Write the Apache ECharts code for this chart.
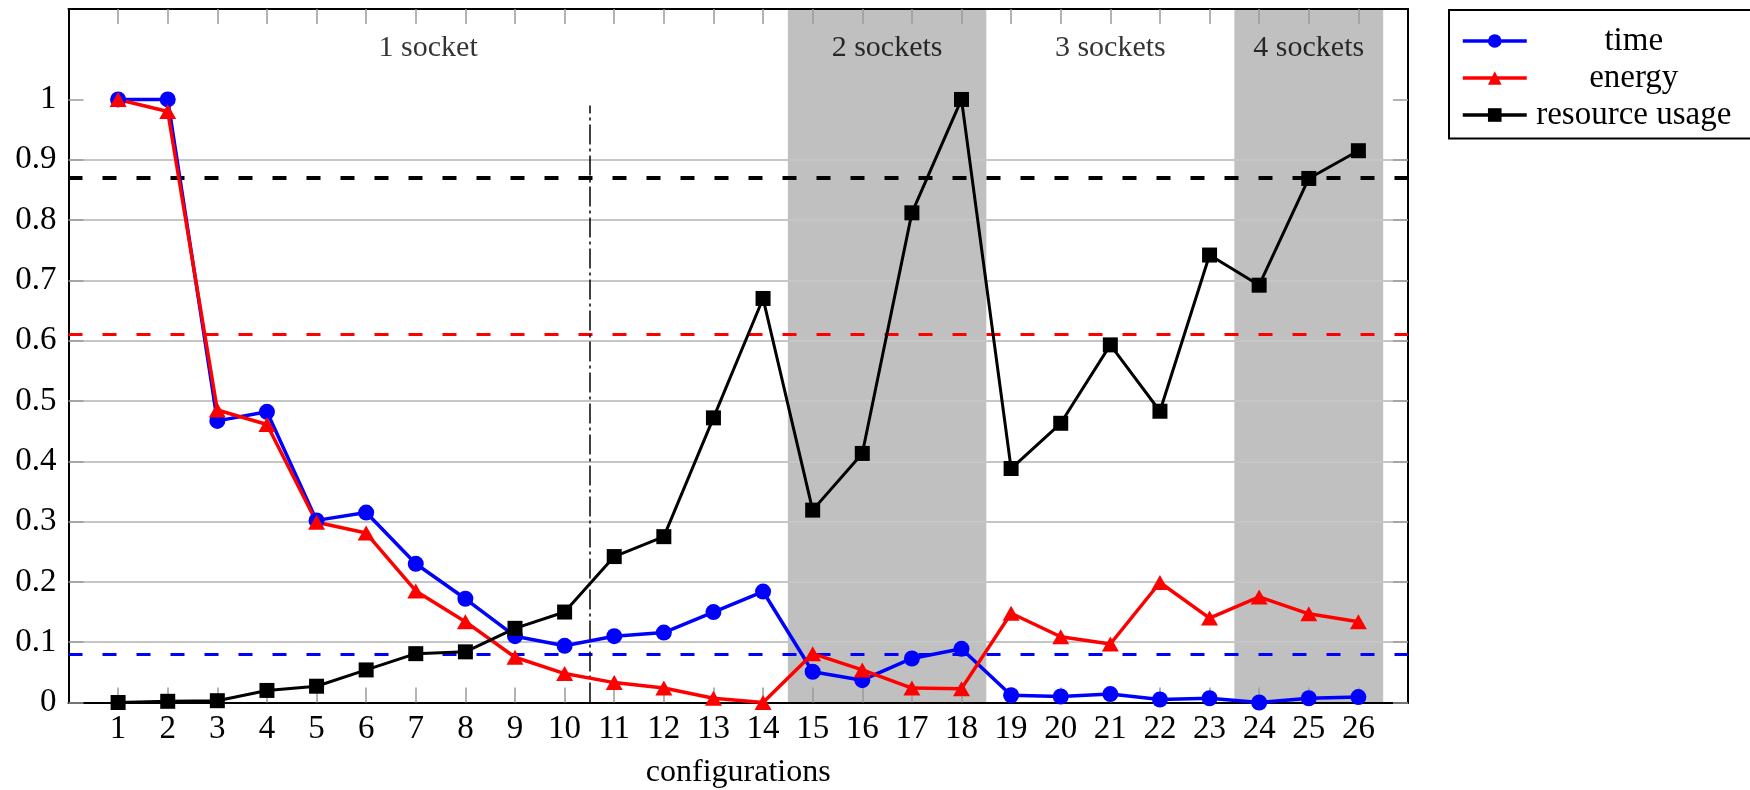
<!DOCTYPE html>
<html>
<head>
<meta charset="utf-8">
<script src="https://cdn.jsdelivr.net/npm/echarts@6/dist/echarts.min.js"></script>
<style>
  html, body { margin: 0; padding: 0; background: #fff; }
  #chart { width: 1750px; height: 790px; }
</style>
</head>
<body>
<div id="chart"></div>
<script>
// Configurations 1..26 and the three normalised metrics
const configs = [1, 2, 3, 4, 5, 6, 7, 8, 9, 10, 11, 12, 13, 14, 15, 16, 17, 18, 19, 20, 21, 22, 23, 24, 25, 26];
const timeValues = [1, 1, 0.467, 0.482, 0.302, 0.315, 0.23, 0.172, 0.11, 0.094, 0.11, 0.116, 0.15, 0.184,
  0.051, 0.037, 0.073, 0.089, 0.012, 0.01, 0.014, 0.005, 0.007, 0.0, 0.007, 0.009];
const energyValues = [1, 0.98, 0.485, 0.461, 0.299, 0.281, 0.185, 0.134, 0.075, 0.048, 0.033, 0.024, 0.007, 0.0,
  0.081, 0.054, 0.024, 0.023, 0.148, 0.109, 0.097, 0.199, 0.14, 0.175, 0.147, 0.134];
const resourceValues = [0, 0.002, 0.003, 0.02, 0.027, 0.054, 0.081, 0.084, 0.123, 0.15, 0.242, 0.275, 0.472, 0.67,
  0.319, 0.413, 0.812, 1.0, 0.388, 0.463, 0.593, 0.483, 0.742, 0.692, 0.869, 0.915];

// Thresholds drawn as dashed horizontal lines
const timeThreshold = 0.08;
const energyThreshold = 0.61;
const resourceThreshold = 0.87;

// Socket groups: shaded spans and their captions
const shadedSpans = [[14.5, 18.5], [23.5, 26.5]];
const sectionNames = ['1 socket', '2 sockets', '3 sockets', '4 sockets'];
const sectionCenters = [7.25, 16.5, 21, 25];
const sectionLabelLevel = 1.085;
const separatorX = 10.5;
const separatorTop = 0.99;

// Axis ticks
const yTickValues = [0, 0.1, 0.2, 0.3, 0.4, 0.5, 0.6, 0.7, 0.8, 0.9, 1];
const xTickValues = configs.slice();

const SERIF = '"Liberation Serif", "Times New Roman", serif';
const TICK_GRAY = '#9a9a9a';
const GRID_GRAY = '#c6c6c6';

const chart = echarts.init(document.getElementById('chart'), null, { renderer: 'canvas' });

const pairs = vals => configs.map((c, i) => [c, vals[i]]);

function fmtY(v) {
  if (v > 1.0001) return '';
  return String(Math.round(v * 10) / 10);
}
function fmtX(v) {
  if (v < 0.5 || v > 26.5) return '';
  return String(v);
}

// split line colours: visible for 0..1, hidden for 1.1 and the top edge
const splitColors = [];
for (let i = 0; i < 11; i++) splitColors.push(GRID_GRAY);
splitColors.push('rgba(0,0,0,0)', 'rgba(0,0,0,0)');

const commonX = {
  type: 'value', min: 0, max: 27, interval: 1, z: 2,
  axisLine: { show: true, onZero: false, lineStyle: { color: '#000', width: 2 } },
  axisTick: { show: true, inside: true, length: 15, customValues: xTickValues,
    lineStyle: { color: TICK_GRAY, width: 1.5 } },
  splitLine: { show: false }
};
const commonY = {
  type: 'value', min: 0, max: 1.15, interval: 0.1, z: 2,
  axisLine: { show: true, onZero: false, lineStyle: { color: '#000', width: 2 } },
  axisTick: { show: true, inside: true, length: 15, customValues: yTickValues,
    lineStyle: { color: TICK_GRAY, width: 1.5 } }
};

const option = {
  animation: false,
  backgroundColor: '#fff',
  grid: { left: 68.5, top: 9, width: 1339.5, height: 693.5, containLabel: false, outerBoundsMode: 'none' },
  xAxis: [
    Object.assign({}, commonX, {
      position: 'bottom',
      name: 'configurations', nameLocation: 'middle', nameGap: 54,
      nameTextStyle: { fontFamily: SERIF, fontSize: 32, color: '#000' },
      axisLabel: { show: true, margin: 10, customValues: xTickValues, formatter: fmtX,
        fontFamily: SERIF, fontSize: 33, color: '#000' }
    }),
    Object.assign({}, commonX, { position: 'top', axisLabel: { show: false } })
  ],
  yAxis: [
    Object.assign({}, commonY, {
      position: 'left',
      axisLabel: { show: true, margin: 12, customValues: yTickValues, formatter: fmtY,
        fontFamily: SERIF, fontSize: 33, color: '#000' },
      splitLine: { show: true, showMaxLine: false, lineStyle: { color: splitColors, width: 2 } }
    }),
    Object.assign({}, commonY, { position: 'right', axisLabel: { show: false }, splitLine: { show: false } })
  ],
  legend: {
    orient: 'vertical',
    left: 1449, top: 10,
    padding: [14.5, 40, 7, 12],
    itemGap: 4,
    itemWidth: 64, itemHeight: 17,
    backgroundColor: '#fff',
    borderColor: '#000', borderWidth: 2, borderRadius: 0,
    data: ['time', 'energy', 'resource usage'],
    lineStyle: { width: 3.5 },
    formatter: name => '{t|' + name + '}',
    textStyle: {
      rich: { t: { width: 204, align: 'center', fontFamily: SERIF, fontSize: 33, lineHeight: 37, color: '#000' } }
    }
  },
  series: [
    {
      // shaded socket spans, thresholds and the separator line
      type: 'line', name: 'guides', data: [], silent: true, xAxisIndex: 0, yAxisIndex: 0,
      markArea: {
        silent: true, z: 1,
        itemStyle: { color: '#c0c0c0', borderWidth: 0 },
        data: shadedSpans.map(s => [{ xAxis: s[0] }, { xAxis: s[1] }])
      },
      markLine: {
        silent: true, z: 2.5, symbol: ['none', 'none'], animation: false,
        label: { show: false },
        emphasis: { disabled: true },
        data: [
          { yAxis: resourceThreshold, lineStyle: { color: '#000', width: 4, type: [14, 20] } },
          { yAxis: energyThreshold, lineStyle: { color: '#ff0000', width: 3, type: [14, 20] } },
          { yAxis: timeThreshold, lineStyle: { color: '#0000ff', width: 3, type: [14, 20] } },
          [
            { coord: [separatorX, 0], lineStyle: { color: '#000', width: 1.5, type: [20, 4, 3, 4] } },
            { coord: [separatorX, separatorTop] }
          ]
        ]
      }
    },
    {
      name: 'time', type: 'line', z: 3, data: pairs(timeValues),
      symbol: 'circle', symbolSize: 16,
      lineStyle: { color: '#0000ff', width: 3.5 },
      itemStyle: { color: '#0000ff' }
    },
    {
      name: 'energy', type: 'line', z: 3, data: pairs(energyValues),
      symbol: 'triangle', symbolSize: [17, 15],
      lineStyle: { color: '#ff0000', width: 3.5 },
      itemStyle: { color: '#ff0000' }
    },
    {
      name: 'resource usage', type: 'line', z: 3, data: pairs(resourceValues),
      symbol: 'rect', symbolSize: 15,
      lineStyle: { color: '#000000', width: 3 },
      itemStyle: { color: '#000000' }
    },
    {
      // socket captions
      type: 'scatter', name: 'sections', z: 3, silent: true,
      symbolSize: 0,
      data: sectionNames.map((n, i) => [sectionCenters[i], sectionLabelLevel, n]),
      label: {
        show: true, position: 'inside',
        formatter: p => p.data[2],
        fontFamily: SERIF, fontSize: 30, color: '#000'
      }
    }
  ]
};

chart.setOption(option);
</script>
</body>
</html>
